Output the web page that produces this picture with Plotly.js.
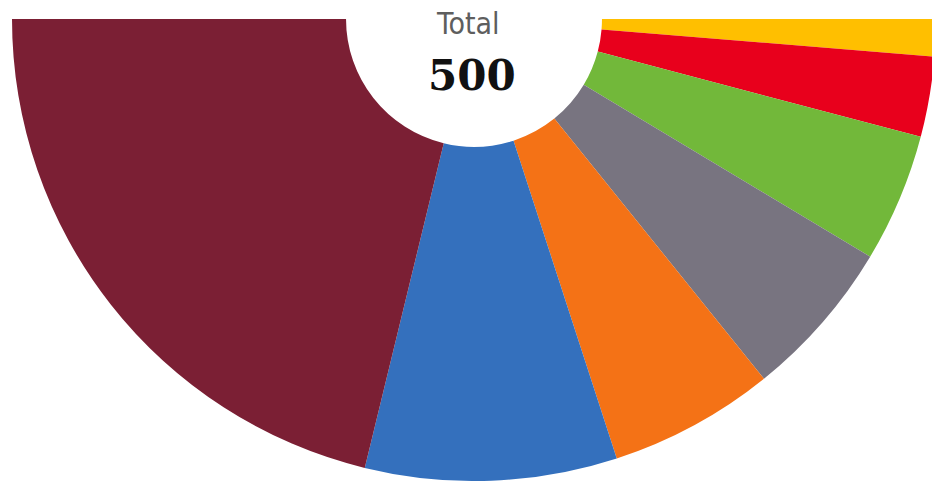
<!DOCTYPE html>
<html>
<head>
<meta charset="utf-8">
<script src="https://cdn.plot.ly/plotly-3.0.1.min.js"></script>
<style>
  html, body { margin: 0; padding: 0; background: #ffffff; overflow: hidden; width: 932px; height: 485px; }
  #wrap { position: relative; width: 932px; height: 485px; overflow: hidden; }
  #chart { position: absolute; left: 12px; top: -443px; width: 924px; height: 924px; }
</style>
</head>
<body>
<div id="wrap"><div id="chart"></div></div>
<script>
// Seats, ordered clockwise from the right end of the half-circle
const parties = ["Yellow party", "Red party", "Green party", "Grey party", "Orange party", "Blue party", "Maroon party"];
const seats   = [13, 28, 45, 56, 58, 88, 212];
const colors  = ["#FFBF00", "#E8001C", "#72B83A", "#787480", "#F47216", "#3470BD", "#7B1F34"];
const totalLabel = "Total";
const totalSeats = seats.reduce((a, b) => a + b, 0);

const trace = {
  type: "pie",
  labels: parties.concat(["(hidden)"]),
  values: seats.concat([totalSeats]),
  marker: { colors: colors.concat(["rgba(0,0,0,0)"]), line: { width: 0 } },
  hole: 0.277,
  sort: false,
  direction: "clockwise",
  rotation: 90,
  textinfo: "none",
  hoverinfo: "skip",
  showlegend: false,
  domain: { x: [0, 1], y: [0, 1] }
};

const layout = {
  width: 924, height: 924,
  margin: { l: 0, r: 0, t: 0, b: 0, pad: 0 },
  paper_bgcolor: "rgba(0,0,0,0)",
  plot_bgcolor: "rgba(0,0,0,0)",
  showlegend: false,
  annotations: [
    { text: totalLabel, xref: "paper", yref: "paper", x: 0.5, y: 0.5, xanchor: "center", yanchor: "middle",
      yshift: -4, xshift: -6, showarrow: false,
      font: { family: "DejaVu Sans Condensed, Open Sans, sans-serif", size: 30, color: "#5e5e5e" } },
    { text: "<b>" + totalSeats + "</b>", xref: "paper", yref: "paper", x: 0.5, y: 0.5, xanchor: "center", yanchor: "middle",
      yshift: -56, xshift: -2, showarrow: false,
      font: { family: "DejaVu Serif, Liberation Serif, serif", size: 42, color: "#111111" } }
  ]
};

Plotly.newPlot("chart", [trace], layout, { displayModeBar: false, staticPlot: true });
</script>
</body>
</html>
